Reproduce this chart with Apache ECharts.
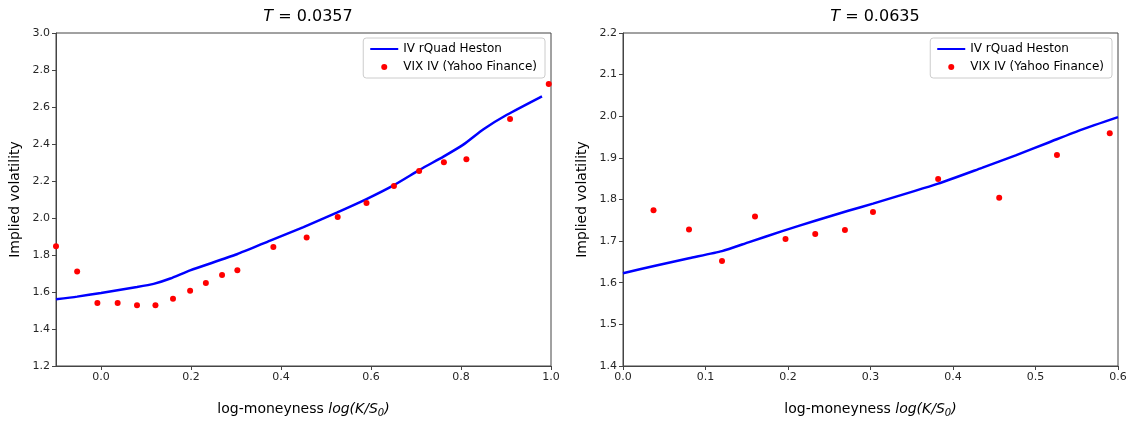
<!DOCTYPE html>
<html><head><meta charset="utf-8">
<script src="https://cdn.jsdelivr.net/npm/echarts@6/dist/echarts.min.js"></script>
<style>html,body{margin:0;padding:0;background:#fff}#c{width:1135px;height:423px}</style>
</head><body><div id="c"></div>
<script>
// Left panel T = 0.0357
const leftLineX = [-0.1,-0.053,0.0,0.08,0.117,0.154,0.198,0.302,0.376,0.45,0.524,0.59,0.65,0.71,0.761,0.806,0.85,0.902,0.98];
const leftLineY = [1.561,1.575,1.595,1.627,1.644,1.673,1.717,1.804,1.878,1.951,2.029,2.102,2.176,2.263,2.332,2.398,2.480,2.558,2.658];
const leftPtsX = [-0.1,-0.053,-0.008,0.037,0.080,0.121,0.160,0.198,0.233,0.269,0.303,0.383,0.457,0.526,0.590,0.651,0.707,0.762,0.812,0.909,0.995];
const leftPtsY = [1.847,1.711,1.541,1.540,1.528,1.528,1.564,1.607,1.649,1.692,1.717,1.843,1.895,2.006,2.081,2.173,2.254,2.301,2.317,2.535,2.724];
const leftTicks = [0.0,0.2,0.4,0.6,0.8,1.0];
// Right panel T = 0.0635
const rightLineX = [0.0,0.039,0.08,0.12,0.152,0.193,0.233,0.273,0.303,0.382,0.435,0.476,0.516,0.556,0.6];
const rightLineY = [1.623,1.641,1.659,1.676,1.697,1.724,1.749,1.773,1.790,1.838,1.876,1.906,1.937,1.968,1.998];
const rightPtsX = [0.037,0.080,0.120,0.160,0.197,0.233,0.269,0.303,0.382,0.456,0.526,0.590];
const rightPtsY = [1.774,1.728,1.652,1.759,1.705,1.717,1.727,1.770,1.849,1.804,1.907,1.959];
const titles = ['0.0357','0.0635'];
const lineName = 'IV rQuad Heston';
const ptsName = 'VIX IV (Yahoo Finance)';

const zip = (a,b) => a.map((v,i)=>[v,b[i]]);
const FONT = 'DejaVu Sans';
const tc = '#262626';

const grids = [
  {left:56, top:33, width:495, height:346, show:true, borderColor:'#444', borderWidth:1},
  {left:623, top:33, width:495, height:346, show:true, borderColor:'#444', borderWidth:1}
];
function xAxis(i, min, max, interval, ticks){
  const ax = {type:'value', gridIndex:i, min, max, interval,
    name:'log-moneyness {i|log(K/S}{sub|0}{i|)}', nameLocation:'middle', nameGap:34,
    nameTextStyle:{fontFamily:FONT, fontSize:14, color:'#000',
      rich:{i:{fontFamily:FONT, fontSize:14, fontStyle:'italic', color:'#000'},
            sub:{fontFamily:FONT, fontSize:10, fontStyle:'italic', color:'#000', padding:[8,0,0,0]}}},
    axisLine:{show:true, onZero:false, lineStyle:{color:'#444', width:1}},
    axisTick:{show:true, length:4, lineStyle:{color:'#444'}},
    axisLabel:{fontFamily:FONT, fontSize:11, color:tc, margin:6, formatter:v=>v.toFixed(1)},
    splitLine:{show:false}};
  if (ticks){ ax.axisTick.customValues = ticks; ax.axisLabel.customValues = ticks; }
  return ax;
}
function yAxis(i, min, max, interval){
  return {type:'value', gridIndex:i, min, max, interval,
    name:'Implied volatility', nameLocation:'middle', nameGap:34, nameRotate:90,
    nameTextStyle:{fontFamily:FONT, fontSize:14, color:'#000'},
    axisLine:{show:true, onZero:false, lineStyle:{color:'#444', width:1}},
    axisTick:{show:true, length:4, lineStyle:{color:'#444'}},
    axisLabel:{fontFamily:FONT, fontSize:11, color:tc, margin:6, formatter:v=>v.toFixed(1)},
    splitLine:{show:false}};
}
function legend(right){
  return {orient:'vertical', right, top:38, padding:[5,8,5,6],
    backgroundColor:'rgba(255,255,255,0.8)', borderColor:'#ccc', borderWidth:1, borderRadius:3,
    itemWidth:28, itemHeight:6, itemGap:6,
    textStyle:{fontFamily:FONT, fontSize:12, color:'#000'},
    data:[{name:lineName, itemStyle:{opacity:0}}, {name:ptsName}]};
}
const option = {
  animation:false,
  title:[
    {text:'{i|T} = '+titles[0], left:303, top:4, textAlign:'center',
     textStyle:{fontFamily:FONT, fontSize:16, fontWeight:'normal', color:'#000', rich:{i:{fontFamily:FONT,fontSize:16,fontStyle:'italic',color:'#000'}}}},
    {text:'{i|T} = '+titles[1], left:870, top:4, textAlign:'center',
     textStyle:{fontFamily:FONT, fontSize:16, fontWeight:'normal', color:'#000', rich:{i:{fontFamily:FONT,fontSize:16,fontStyle:'italic',color:'#000'}}}}
  ],
  grid:grids,
  xAxis:[xAxis(0,-0.1,1.0,0.1,leftTicks), xAxis(1,0,0.6,0.1,null)],
  yAxis:[yAxis(0,1.2,3.0,0.2), yAxis(1,1.4,2.2,0.1)],
  legend:[legend(1135-545), legend(1135-1112)],
  series:[
    {name:lineName, type:'line', xAxisIndex:0, yAxisIndex:0, data:zip(leftLineX,leftLineY), symbol:'none', smooth:0.2, lineStyle:{color:'#0000ff', width:2.5}, itemStyle:{color:'#0000ff'}, z:2},
    {name:ptsName, type:'scatter', xAxisIndex:0, yAxisIndex:0, data:zip(leftPtsX,leftPtsY), symbol:'circle', symbolSize:6, itemStyle:{color:'#ff0000', opacity:1}, z:3},
    {name:lineName, type:'line', xAxisIndex:1, yAxisIndex:1, data:zip(rightLineX,rightLineY), symbol:'none', smooth:0.2, lineStyle:{color:'#0000ff', width:2.5}, itemStyle:{color:'#0000ff'}, z:2},
    {name:ptsName, type:'scatter', xAxisIndex:1, yAxisIndex:1, data:zip(rightPtsX,rightPtsY), symbol:'circle', symbolSize:6, itemStyle:{color:'#ff0000', opacity:1}, z:3}
  ]
};
const chart = echarts.init(document.getElementById('c'), null, {renderer:'canvas'});
chart.setOption(option);
</script></body></html>
